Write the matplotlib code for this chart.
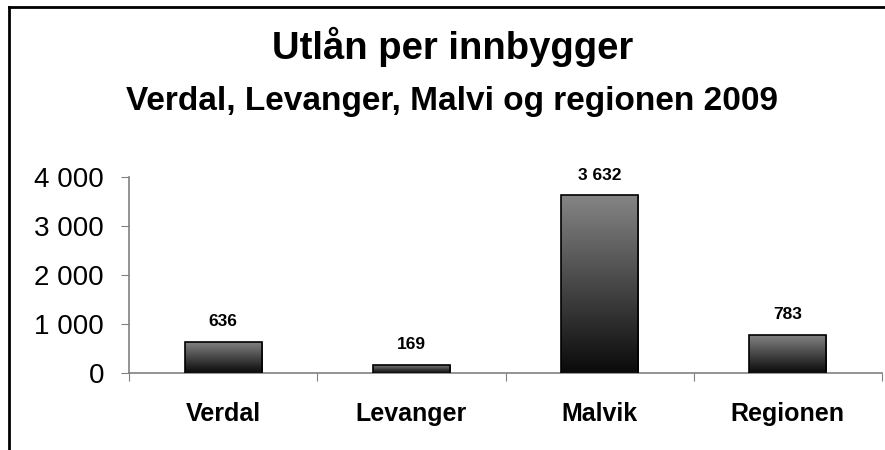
import numpy as np
import matplotlib.pyplot as plt
from matplotlib.lines import Line2D
from matplotlib.colors import LinearSegmentedColormap

plt.rcParams['font.family'] = ['Liberation Sans', 'DejaVu Sans']

kommuner = ['Verdal', 'Levanger', 'Malvik', 'Regionen']
utlan = [636, 169, 3632, 783]
yticks = [0, 1000, 2000, 3000, 4000]

def fmt(v):
    return f'{v:,}'.replace(',', ' ')

fig = plt.figure(figsize=(8.85, 4.5), dpi=100)
fig.patch.set_facecolor('white')
ax = fig.add_axes([0.1458, 0.1711, 0.8508, 0.4356])

x = np.arange(len(kommuner))
bars = ax.bar(x, utlan, width=0.41, color='none', edgecolor='black', linewidth=1.2, zorder=3)

# grey gradient inside each bar, light on top, dark at bottom
cmap = LinearSegmentedColormap.from_list('grad', ['#0a0a0a', '#858585'])
grad = np.linspace(0, 1, 256).reshape(-1, 1)
for b in bars:
    x0, y0 = b.get_x(), b.get_y()
    im = ax.imshow(grad, cmap=cmap, origin='lower', aspect='auto',
                   extent=[x0, x0 + b.get_width(), y0, y0 + b.get_height()], zorder=2)
    im.set_clip_path(b)

for xi, v in zip(x, utlan):
    ax.annotate(fmt(v), (xi, v), xytext=(0, 9), textcoords='offset points',
                ha='center', va='bottom', fontsize=12.5, fontweight='bold')

ax.set_xlim(-0.5, len(kommuner) - 0.5)
ax.set_ylim(0, 4000)
ax.set_yticks(yticks)
ax.set_yticklabels([fmt(t) for t in yticks], fontsize=20)
ax.set_xticks(np.arange(len(kommuner) + 1) - 0.5)
ax.set_xticklabels([])
ax.set_xticks(x, minor=True)
ax.set_xticklabels(kommuner, minor=True, fontsize=18, fontweight='bold')
ax.tick_params(axis='x', which='minor', length=0, pad=21)
ax.tick_params(axis='x', which='major', length=6, color='#808080', direction='out')
ax.tick_params(axis='y', length=6, color='#808080', pad=12)

for s in ['top', 'right']:
    ax.spines[s].set_visible(False)
for s in ['left', 'bottom']:
    ax.spines[s].set_color('#808080')
    ax.spines[s].set_linewidth(1.2)
ax.set_facecolor('none')

fig.text(0.511, 0.895, 'Utlån per innbygger', ha='center', va='center',
         fontsize=27.5, fontweight='bold')
fig.text(0.511, 0.775, 'Verdal, Levanger, Malvi og regionen 2009', ha='center', va='center',
         fontsize=24, fontweight='bold')

# chart frame (only top and left edges visible)
fig.add_artist(Line2D([8.5 / 885, 1], [1 - 6.5 / 450] * 2, transform=fig.transFigure,
                      color='black', linewidth=2))
fig.add_artist(Line2D([8.5 / 885] * 2, [0, 1 - 6.5 / 450], transform=fig.transFigure,
                      color='black', linewidth=2))

fig.savefig('out.png', dpi=100)
